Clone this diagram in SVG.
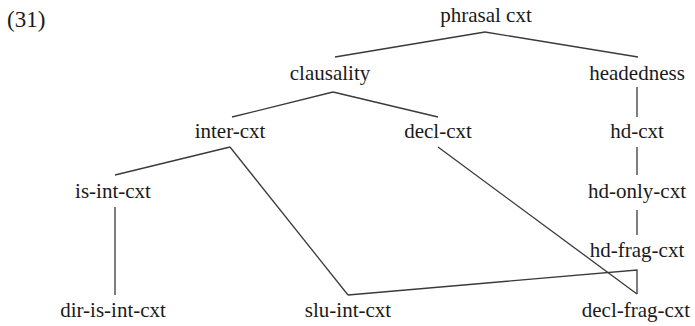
<svg xmlns="http://www.w3.org/2000/svg" width="695" height="326" viewBox="0 0 695 326">
<style>
text{font-family:"Liberation Serif","Times New Roman",serif;font-size:21px;fill:#1a1a1a;text-anchor:middle}
#edges line,#edges polyline{stroke:#3a3a3a;stroke-width:1.3;fill:none}
</style>
<rect width="695" height="326" fill="#fff"/>
<text x="7" y="27" style="text-anchor:start;font-size:23px">(31)</text>
<g id="edges">
<line x1="485" y1="32" x2="335" y2="57"/>
<line x1="485" y1="32" x2="638" y2="57"/>
<line x1="333" y1="92" x2="232" y2="117"/>
<line x1="333" y1="92" x2="438" y2="117"/>
<line x1="637" y1="87" x2="637" y2="117"/>
<line x1="230" y1="147" x2="115" y2="175"/>
<line x1="230" y1="147" x2="348" y2="295"/>
<line x1="438" y1="147" x2="637" y2="294"/>
<line x1="637" y1="147" x2="637" y2="175"/>
<line x1="637" y1="210" x2="637" y2="235"/>
<polyline points="348,295 637,270 637,294"/>
<line x1="115" y1="207" x2="115" y2="295"/>
</g>
<g id="n-phrasal"><text x="486" y="22">phrasal cxt</text></g>
<g id="n-clausality"><text x="330" y="80">clausality</text></g>
<g id="n-headedness"><text x="637" y="80">headedness</text></g>
<g id="n-inter"><text x="230" y="138">inter-cxt</text></g>
<g id="n-decl"><text x="438" y="138">decl-cxt</text></g>
<g id="n-hd"><text x="637" y="138">hd-cxt</text></g>
<g id="n-is-int"><text x="113" y="198">is-int-cxt</text></g>
<g id="n-hd-only"><text x="637" y="198">hd-only-cxt</text></g>
<g id="n-hd-frag"><text x="637" y="257">hd-frag-cxt</text></g>
<g id="n-dir-is-int"><text x="113" y="317">dir-is-int-cxt</text></g>
<g id="n-slu-int"><text x="348" y="317">slu-int-cxt</text></g>
<g id="n-decl-frag"><text x="636" y="317">decl-frag-cxt</text></g>
</svg>
